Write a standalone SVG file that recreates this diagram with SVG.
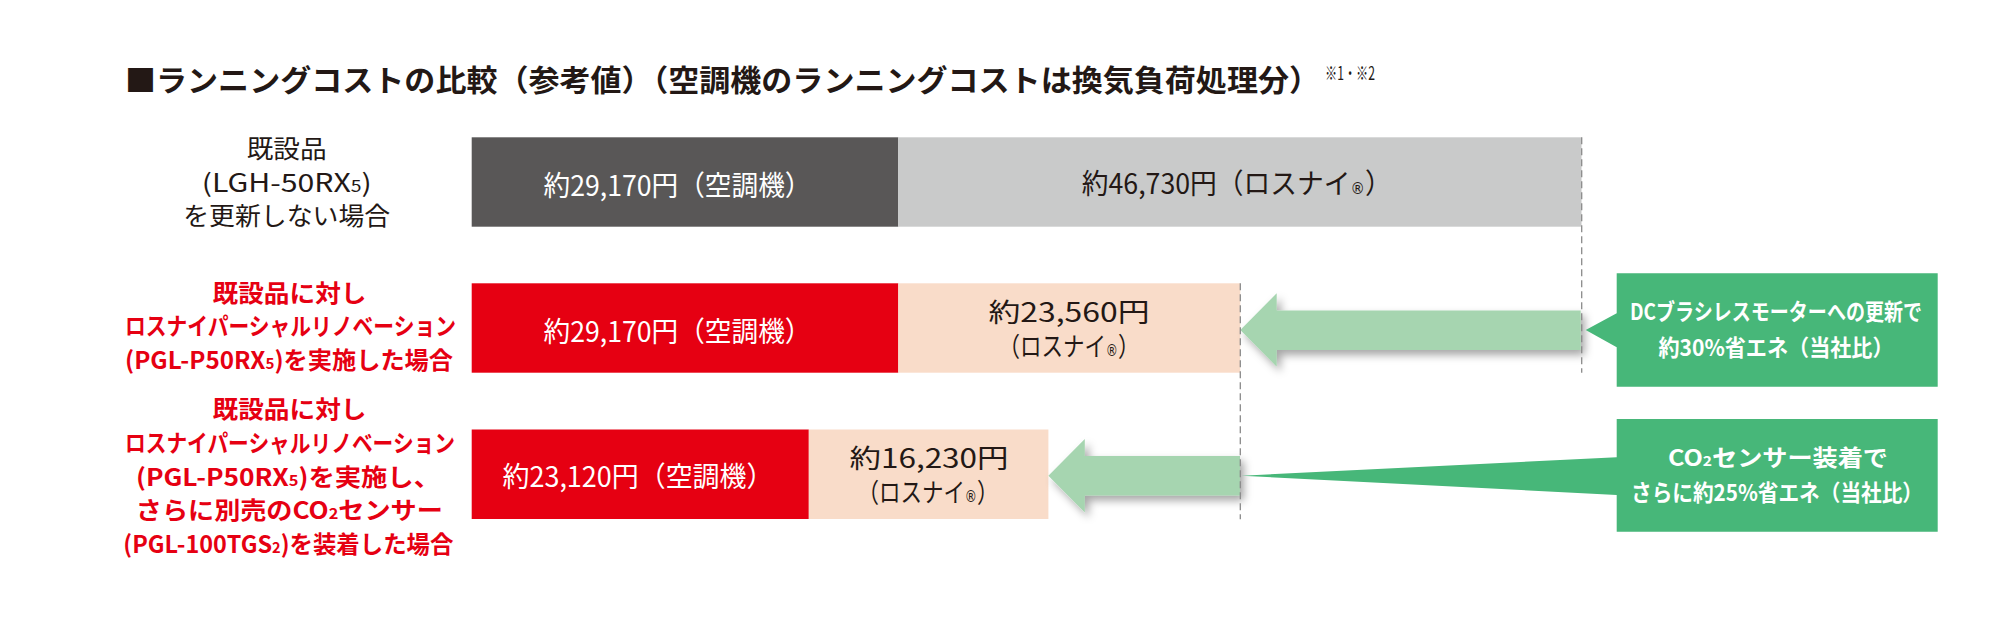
<svg xmlns="http://www.w3.org/2000/svg" width="2015" height="624" viewBox="0 0 2015 624">
<defs>
<style>
text{font-family:"Noto Sans CJK JP","Noto Sans",sans-serif;}
.title{font-size:30px;font-weight:700;fill:#231815;}
.note{font-size:18px;fill:#231815;}
.lbl{font-size:25px;fill:#231815;text-anchor:middle;}
.red{font-size:24px;font-weight:700;fill:#e60012;text-anchor:middle;}
.bt{font-size:28px;text-anchor:middle;}
.bt2{font-size:26.5px;text-anchor:middle;}
.w{fill:#ffffff;}
.k{fill:#231815;}
.call{font-size:22.5px;font-weight:700;fill:#ffffff;text-anchor:middle;}
.reg{font-family:"DejaVu Sans",sans-serif;font-size:15px;}
.dash{stroke:#8a8a8a;stroke-width:1.3;stroke-dasharray:7 4;fill:none;}
.arrow{fill:#a6d5b0;filter:url(#sh);}
.box{fill:#47b779;}
</style>
<filter id="sh" x="-10%" y="-40%" width="130%" height="200%">
<feDropShadow dx="4" dy="5" stdDeviation="4" flood-color="#000" flood-opacity="0.35"/>
</filter>
</defs>
<rect width="2015" height="624" fill="#ffffff"/>

<g id="title">
<text class="title" x="125" y="91" textLength="1195" lengthAdjust="spacingAndGlyphs">■ランニングコストの比較（参考値）（空調機のランニングコストは換気負荷処理分）</text>
<text class="note" x="1325" y="80" textLength="50" lengthAdjust="spacingAndGlyphs">※1・※2</text>
</g>

<g id="row1-label">
<text class="lbl" x="286.7" y="158" textLength="80" lengthAdjust="spacingAndGlyphs">既設品</text>
<text class="lbl" x="286.7" y="192" textLength="170" lengthAdjust="spacingAndGlyphs">(LGH-50RX<tspan font-size="16">5</tspan>)</text>
<text class="lbl" x="286.7" y="225" textLength="207" lengthAdjust="spacingAndGlyphs">を更新しない場合</text>
</g>

<g id="row2-label">
<text class="red" x="289.5" y="301.5" textLength="154" lengthAdjust="spacingAndGlyphs">既設品に対し</text>
<text class="red" x="290.5" y="335" textLength="331" lengthAdjust="spacingAndGlyphs">ロスナイパーシャルリノベーション</text>
<text class="red" x="289" y="368.5" textLength="328" lengthAdjust="spacingAndGlyphs">(PGL-P50RX<tspan font-size="15">5</tspan>)を実施した場合</text>
</g>

<g id="row3-label">
<text class="red" x="289.5" y="418" textLength="154" lengthAdjust="spacingAndGlyphs">既設品に対し</text>
<text class="red" x="290" y="451.5" textLength="330" lengthAdjust="spacingAndGlyphs">ロスナイパーシャルリノベーション</text>
<text class="red" x="288" y="485.5" textLength="304" lengthAdjust="spacingAndGlyphs">(PGL-P50RX<tspan font-size="15">5</tspan>)を実施し、</text>
<text class="red" x="289.3" y="519" textLength="307" lengthAdjust="spacingAndGlyphs">さらに別売のCO<tspan font-size="15">2</tspan>センサー</text>
<text class="red" x="288.3" y="552.5" textLength="330" lengthAdjust="spacingAndGlyphs">(PGL-100TGS<tspan font-size="15">2</tspan>)を装着した場合</text>
</g>

<g id="row1-bar">
<rect x="471.7" y="137.3" width="426.6" height="89.4" fill="#595757"/>
<rect x="898.3" y="137.3" width="683.2" height="89.4" fill="#c9caca"/>
<text class="bt w" x="677.5" y="195.5" textLength="268" lengthAdjust="spacingAndGlyphs">約29,170円（空調機）</text>
<text class="bt k" x="1236.7" y="194" textLength="310" lengthAdjust="spacingAndGlyphs">約46,730円（ロスナイ<tspan class="reg">®</tspan>）</text>
</g>

<g id="row2-bar">
<rect x="471.7" y="283.3" width="426.6" height="89.4" fill="#e60012"/>
<rect x="898.3" y="283.3" width="342" height="89.4" fill="#f9dcc9"/>
<text class="bt w" x="677.5" y="341.5" textLength="268" lengthAdjust="spacingAndGlyphs">約29,170円（空調機）</text>
<text class="bt2 k" x="1069" y="322" textLength="161" lengthAdjust="spacingAndGlyphs">約23,560円</text>
<text class="bt2 k" x="1069" y="355.5" textLength="141" lengthAdjust="spacingAndGlyphs">（ロスナイ<tspan class="reg">®</tspan>）</text>
</g>

<g id="row3-bar">
<rect x="471.7" y="429.5" width="337.1" height="89.5" fill="#e60012"/>
<rect x="808.8" y="429.5" width="239.6" height="89.5" fill="#f9dcc9"/>
<text class="bt w" x="638" y="487" textLength="271" lengthAdjust="spacingAndGlyphs">約23,120円（空調機）</text>
<text class="bt2 k" x="929" y="468" textLength="159" lengthAdjust="spacingAndGlyphs">約16,230円</text>
<text class="bt2 k" x="928" y="502" textLength="141" lengthAdjust="spacingAndGlyphs">（ロスナイ<tspan class="reg">®</tspan>）</text>
</g>

<g id="connectors">
<polygon class="arrow" points="1240.3,330 1276.7,293.3 1276.7,310.5 1580.7,310.5 1580.7,350 1276.7,350 1276.7,366.7"/>
<polygon class="arrow" points="1048.4,475.7 1084.8,439 1084.8,456 1240,456 1240,495.5 1084.8,495.5 1084.8,512.4"/>
<line class="dash" x1="1581.7" y1="137.3" x2="1581.7" y2="372.7"/>
<line class="dash" x1="1240.3" y1="283.3" x2="1240.3" y2="519.3"/>
</g>

<g id="callout1">
<path class="box" d="M1616.7,273.3 H1937.7 V386.7 H1616.7 V347.3 L1585.7,330 L1616.7,313.3 Z"/>
<text class="call" x="1776" y="320" textLength="292" lengthAdjust="spacingAndGlyphs">DCブラシレスモーターへの更新で</text>
<text class="call" x="1776" y="355.5" textLength="235" lengthAdjust="spacingAndGlyphs">約30%省エネ（当社比）</text>
</g>

<g id="callout2">
<path class="box" d="M1616.7,419 H1937.7 V531.7 H1616.7 V495 L1241.7,475.7 L1616.7,457.3 Z"/>
<text class="call" x="1778" y="465.5" textLength="220" lengthAdjust="spacingAndGlyphs">CO<tspan font-size="14">2</tspan>センサー装着で</text>
<text class="call" x="1777" y="500.5" textLength="292" lengthAdjust="spacingAndGlyphs">さらに約25%省エネ（当社比）</text>
</g>
</svg>
